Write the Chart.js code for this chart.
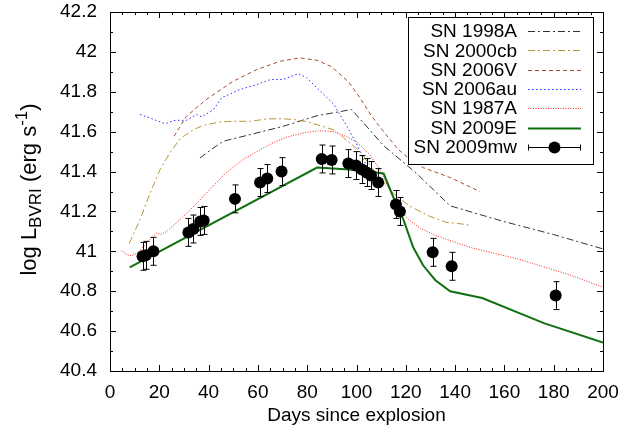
<!DOCTYPE html>
<html>
<head>
<meta charset="utf-8">
<script src="https://cdn.jsdelivr.net/npm/chart.js@4.4.0/dist/chart.umd.min.js"></script>
<style>
  html, body { margin: 0; padding: 0; background: #fff; }
</style>
</head>
<body>
<canvas id="lcChart" width="623" height="432"></canvas>
<script>
// light curves (days since explosion, log L)
var days1998A = [36.5, 41, 46, 56.8, 70.3, 84, 98, 111, 124.4, 138, 159.6, 180, 200];
var lum1998A  = [41.468, 41.51, 41.552, 41.585, 41.627, 41.68, 41.711, 41.53, 41.39, 41.228, 41.15, 41.084, 41.012];

var days2000cb = [7.8, 12.2, 16.2, 20.3, 24.3, 28.4, 33.8, 38, 44.6, 51, 57, 63.6, 70, 75, 80, 84, 90.6, 93.3, 96.7, 101.4, 108, 115, 121.7, 129.8, 136.6, 141, 146.7];
var lum2000cb  = [41.04, 41.16, 41.29, 41.41, 41.494, 41.564, 41.61, 41.632, 41.649, 41.652, 41.652, 41.664, 41.665, 41.66, 41.65, 41.635, 41.61, 41.585, 41.55, 41.50, 41.39, 41.29, 41.226, 41.175, 41.145, 41.14, 41.13];

var days2006V = [26, 31, 39, 50, 59.5, 69, 77, 84, 90, 96.7, 101.4, 106, 111, 117, 122, 127, 138, 150];
var lum2006V  = [41.577, 41.677, 41.761, 41.853, 41.911, 41.953, 41.97, 41.958, 41.925, 41.85, 41.77, 41.68, 41.60, 41.51, 41.46, 41.42, 41.37, 41.30];

var days2006au = [12.2, 17, 22.3, 26.4, 31, 35.2, 37.2, 42, 45.3, 52.7, 59.5, 65, 70.3, 76.4, 79.8, 85.2, 90.6, 96, 100, 102.8, 104.5];
var lum2006au  = [41.686, 41.665, 41.64, 41.657, 41.657, 41.686, 41.674, 41.711, 41.77, 41.811, 41.836, 41.861, 41.862, 41.891, 41.87, 41.805, 41.74, 41.63, 41.54, 41.46, 41.42];

var days1987A = [4.7, 6.8, 8.8, 11.5, 16, 19, 20.5, 23, 28.5, 34, 40.5, 47, 54, 61, 67, 73, 79, 85, 91, 96, 100, 105, 109, 113, 117, 121, 126, 132, 146, 166, 187, 200];
var lum1987A  = [41.003, 40.983, 40.978, 40.995, 41.058, 41.092, 41.084, 41.10, 41.16, 41.226, 41.31, 41.393, 41.46, 41.51, 41.55, 41.577, 41.595, 41.605, 41.60, 41.575, 41.55, 41.49, 41.42, 41.32, 41.22, 41.16, 41.115, 41.08, 41.02, 40.96, 40.88, 40.82];

var days2009E = [8, 84, 97, 111, 115, 119, 123, 127, 132, 138, 151, 176, 200];
var lum2009E  = [40.92, 41.42, 41.41, 41.39, 41.27, 41.16, 41.02, 40.93, 40.855, 40.80, 40.766, 40.64, 40.543];

var days2009mw = [13.2, 14.5, 17.6, 31.8, 33.8, 36.6, 38, 50.7, 60.9, 63.8, 69.6, 85.9, 89.9, 96.7, 99.8, 102.2, 104.1, 105.9, 108.8, 116, 117.6, 130.9, 138.6, 180.8];
var lum2009mw  = [40.975, 40.98, 41.0, 41.095, 41.112, 41.15, 41.155, 41.263, 41.345, 41.365, 41.40, 41.463, 41.458, 41.44, 41.43, 41.41, 41.395, 41.38, 41.345, 41.235, 41.2, 40.995, 40.925, 40.778];
var err2009mw  = [0.07, 0.07, 0.07, 0.07, 0.07, 0.07, 0.07, 0.07, 0.07, 0.07, 0.07, 0.07, 0.07, 0.07, 0.07, 0.07, 0.07, 0.07, 0.07, 0.07, 0.07, 0.07, 0.07, 0.07];

var FONT = "'Liberation Sans', Arial, Helvetica, sans-serif";

function pts(xs, ys) {
	return xs.map(function (x, i) { return { x: x, y: ys[i] }; });
}

function curve(label, xs, ys, color, dash, width, order) {
	return {
		label: label,
		data: pts(xs, ys),
		showLine: true,
		borderColor: color,
		backgroundColor: color,
		borderDash: dash,
		borderWidth: width,
		pointRadius: 0,
		tension: 0,
		fill: false,
		order: order
	};
}

var datasets = [
	curve('SN 1998A', days1998A, lum1998A, '#333333', [7, 3, 2, 3], 1, 7),
	curve('SN 2000cb', days2000cb, lum2000cb, '#b8963a', [7, 3, 2, 3], 1, 6),
	curve('SN 2006V', days2006V, lum2006V, '#a0522d', [4, 3], 1, 5),
	curve('SN 2006au', days2006au, lum2006au, '#2a2aff', [1.5, 2.5], 1, 4),
	curve('SN 1987A', days1987A, lum1987A, '#ff2020', [1, 1.5], 1, 3),
	curve('SN 2009E', days2009E, lum2009E, '#107010', [], 2, 2),
	{
		label: 'SN 2009mw',
		data: pts(days2009mw, lum2009mw),
		showLine: false,
		pointRadius: 6,
		pointBackgroundColor: '#000',
		pointBorderColor: '#000',
		pointBorderWidth: 0,
		order: 0
	}
];

// frame, inward ticks, error bars, legend and y title (gnuplot look)
var gnuplotLook = {
	id: 'gnuplotLook',
	afterDatasetsDraw: function (chart) {
		var ctx = chart.ctx, xs = chart.scales.x, ys = chart.scales.y;
		ctx.save();
		ctx.strokeStyle = '#000';
		ctx.lineWidth = 1;
		days2009mw.forEach(function (d, i) {
			var px = Math.round(xs.getPixelForValue(d)) + 0.5;
			var y1 = ys.getPixelForValue(lum2009mw[i] + err2009mw[i]);
			var y2 = ys.getPixelForValue(lum2009mw[i] - err2009mw[i]);
			ctx.beginPath();
			ctx.moveTo(px, y1); ctx.lineTo(px, y2);
			ctx.moveTo(px - 3, y1); ctx.lineTo(px + 3, y1);
			ctx.moveTo(px - 3, y2); ctx.lineTo(px + 3, y2);
			ctx.stroke();
		});
		ctx.restore();
	},
	afterDraw: function (chart) {
		var ctx = chart.ctx, a = chart.chartArea, xs = chart.scales.x, ys = chart.scales.y;
		ctx.save();
		ctx.strokeStyle = '#000';
		ctx.lineWidth = 1;
		ctx.setLineDash([]);
		ctx.strokeRect(Math.round(a.left) + 0.5, Math.round(a.top) + 0.5, Math.round(a.right - a.left), Math.round(a.bottom - a.top));

		ctx.beginPath();
		for (var d = 0; d <= 200; d += 5) {
			var px = Math.round(xs.getPixelForValue(d)) + 0.5;
			var len = (d % 20 === 0) ? 6 : 3;
			ctx.moveTo(px, a.bottom); ctx.lineTo(px, a.bottom - len);
			ctx.moveTo(px, a.top); ctx.lineTo(px, a.top + len);
		}
		for (var k = 0; k <= 18; k++) {
			var py = Math.round(ys.getPixelForValue(40.4 + k * 0.1)) + 0.5;
			var l2 = (k % 2 === 0) ? 6 : 3;
			ctx.moveTo(a.left, py); ctx.lineTo(a.left + l2, py);
			ctx.moveTo(a.right, py); ctx.lineTo(a.right - l2, py);
		}
		ctx.stroke();

		// legend
		var bx = 408.5, by = 17.5, bw = 185, bh = 147;
		ctx.fillStyle = '#fff';
		ctx.fillRect(bx, by, bw, bh);
		ctx.strokeRect(bx, by, bw, bh);
		ctx.font = '19px ' + FONT;
		ctx.textAlign = 'right';
		ctx.textBaseline = 'middle';
		chart.data.datasets.forEach(function (ds, i) {
			var ry = 31 + i * 19.3;
			ctx.fillStyle = '#000';
			ctx.fillText(ds.label, 517, ry + 1);
			ctx.beginPath();
			if (ds.showLine) {
				ctx.strokeStyle = ds.borderColor;
				ctx.lineWidth = ds.borderWidth;
				ctx.setLineDash(ds.borderDash);
				ctx.moveTo(528, Math.round(ry) + 0.5); ctx.lineTo(581, Math.round(ry) + 0.5);
				ctx.stroke();
			} else {
				ctx.strokeStyle = '#000';
				ctx.lineWidth = 1;
				ctx.setLineDash([]);
				var yy = Math.round(ry) + 0.5;
				ctx.moveTo(528.5, yy); ctx.lineTo(580.5, yy);
				ctx.moveTo(528.5, yy - 3); ctx.lineTo(528.5, yy + 3);
				ctx.moveTo(580.5, yy - 3); ctx.lineTo(580.5, yy + 3);
				ctx.stroke();
				ctx.beginPath();
				ctx.fillStyle = '#000';
				ctx.arc(554.5, yy, 6, 0, Math.PI * 2);
				ctx.fill();
			}
		});

		// y axis title with subscript / superscript
		ctx.setLineDash([]);
		ctx.fillStyle = '#000';
		ctx.translate(28, (a.top + a.bottom) / 2 - 2);
		ctx.rotate(-Math.PI / 2);
		ctx.textAlign = 'left';
		ctx.textBaseline = 'alphabetic';
		var parts = [
			['log L', 22, 0], ['BVRI', 17, 5], [' (erg s', 22, 0], ['-1', 17, -9], [')', 22, 0]
		];
		var total = 0;
		parts.forEach(function (p) { ctx.font = p[1] + 'px ' + FONT; total += ctx.measureText(p[0]).width; });
		var cx = -total / 2;
		parts.forEach(function (p) {
			ctx.font = p[1] + 'px ' + FONT;
			ctx.fillText(p[0], cx, 8 + p[2]);
			cx += ctx.measureText(p[0]).width;
		});
		ctx.restore();
	}
};

// tick marks themselves are transparent: they only reserve the label gap
var hiddenGrid = function (len) {
	return { display: true, drawOnChartArea: false, drawTicks: true, tickLength: len, color: 'rgba(0,0,0,0)' };
};

new Chart(document.getElementById('lcChart').getContext('2d'), {
	type: 'scatter',
	data: { datasets: datasets },
	options: {
		responsive: false,
		animation: false,
		layout: { padding: { top: 12, right: 20, left: 0, bottom: 0 } },
		plugins: {
			legend: { display: false },
			tooltip: { enabled: false }
		},
		scales: {
			x: {
				type: 'linear',
				min: 0,
				max: 200,
				afterFit: function (s) { s.height = 61; },
				grid: hiddenGrid(10),
				border: { display: false },
				ticks: { stepSize: 20, padding: 0, color: '#000', font: { family: FONT, size: 19 } },
				title: { display: true, text: 'Days since explosion', color: '#000', padding: { top: 0, bottom: 5 }, font: { family: FONT, size: 19 } }
			},
			y: {
				type: 'linear',
				min: 40.4,
				max: 42.2,
				afterFit: function (s) { s.width = 110; },
				grid: hiddenGrid(13),
				border: { display: false },
				ticks: {
					stepSize: 0.2,
					padding: 0,
					color: '#000',
					font: { family: FONT, size: 19 },
					callback: function (v) { return String(Number(v.toFixed(1))); }
				}
			}
		}
	},
	plugins: [gnuplotLook]
});
</script>
</body>
</html>
